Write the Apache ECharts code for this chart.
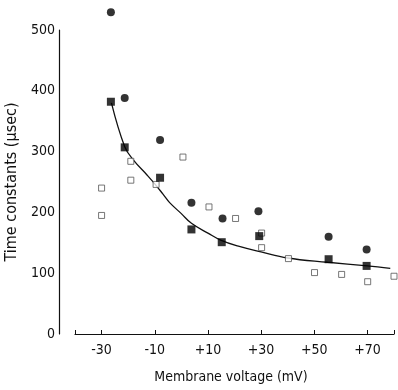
<!DOCTYPE html>
<html>
<head>
<meta charset="utf-8">
<script src="https://cdn.jsdelivr.net/npm/echarts@6/dist/echarts.min.js"></script>
<style>
  html, body { margin: 0; padding: 0; background: #fff; }
  #chart { width: 398px; height: 390px; }
</style>
</head>
<body>
<div id="chart"></div>
<script>
// values: membrane voltage (mV) and time constant (usec)
const filledCircleMv = [-26.5, -21.3, -8, 3.8, 15.5, 29, 55.4, 69.7]
const filledCircleUs = [529, 388, 319, 216, 190, 202, 160, 139]

const filledSquareMv = [-26.5, -21.3, -8, 3.8, 15.2, 29.3, 55.4, 69.7]
const filledSquareUs = [382, 307, 257, 172, 151, 161, 123, 112]

const openSquareMv = [-30, -30, -19, -19, -9.5, 0.6, 10.4, 20.4, 30.2, 30.2, 40.3, 50.1, 60.3, 70.1, 80]
const openSquareUs = [240, 195, 284, 253, 246, 291, 209, 190, 166, 142, 124, 101, 98, 86, 95]

// fitted curve, traced by eye
const curveMv = [-26.3, -21.3, -18, -13, -10, -6.9, -4.4, 0, 3.8, 10, 15, 21.8, 30, 40, 55, 70, 78.6]
const curveUs = [380, 308, 286, 262, 247, 230, 216, 198, 182, 166, 154, 144, 135, 125, 118, 112, 108]

const xLabelValues = [-30, -10, 10, 30, 50, 70]
const xTickValues = [-40, -30, -10, 10, 30, 50, 70, 80]

const pairs = (xs, ys) => xs.map((x, i) => [x, ys[i]])

const font = '"DejaVu Sans Condensed", "Liberation Sans", sans-serif'
const chart = echarts.init(document.getElementById('chart'))

const option = {
  animation: false,
  backgroundColor: '#fff',
  grid: { left: 75, right: 4, top: 30, bottom: 56, containLabel: false, outerBoundsMode: 'none' },
  xAxis: {
    type: 'value',
    min: -40,
    max: 80,
    name: 'Membrane voltage (mV)',
    nameLocation: 'middle',
    nameGap: 36,
    nameTextStyle: { fontFamily: font, fontSize: 14, color: '#111', padding: [0, 7, 0, 0] },
    splitLine: { show: false },
    axisLine: { onZero: false, lineStyle: { color: '#111', width: 1.2 } },
    axisTick: {
      customValues: xTickValues,
      inside: true,
      length: 4,
      lineStyle: { color: '#111' },
    },
    axisLabel: {
      customValues: xLabelValues,
      fontFamily: font,
      fontSize: 14,
      color: '#111',
      margin: 9,
      formatter: v => (v > 0 ? '+' + v : String(v)),
    },
  },
  yAxis: {
    type: 'value',
    min: 0,
    max: 500,
    interval: 100,
    offset: 16,
    name: 'Time constants (\u00b5sec)',
    nameLocation: 'middle',
    nameGap: 34,
    nameTextStyle: { fontFamily: font, fontSize: 16, color: '#111' },
    splitLine: { show: false },
    axisLine: { show: true, onZero: false, lineStyle: { color: '#111', width: 1.2 } },
    axisTick: { show: false },
    axisLabel: { fontFamily: font, fontSize: 14, color: '#111', margin: 4 },
  },
  series: [
    {
      name: 'fit',
      type: 'line',
      data: pairs(curveMv, curveUs),
      smooth: 0.4,
      symbol: 'none',
      lineStyle: { color: '#111', width: 1.3 },
      z: 1,
    },
    {
      name: 'open squares',
      type: 'scatter',
      data: pairs(openSquareMv, openSquareUs),
      symbol: 'rect',
      symbolSize: 6,
      clip: false,
      itemStyle: { color: '#fff', borderColor: '#555', borderWidth: 1 },
      z: 2,
    },
    {
      name: 'filled squares',
      type: 'scatter',
      data: pairs(filledSquareMv, filledSquareUs),
      symbol: 'rect',
      symbolSize: 8,
      clip: false,
      itemStyle: { color: '#000' },
      z: 3,
    },
    {
      name: 'filled circles',
      type: 'scatter',
      data: pairs(filledCircleMv, filledCircleUs),
      symbol: 'circle',
      symbolSize: 8,
      clip: false,
      itemStyle: { color: '#000' },
      z: 3,
    },
  ],
}

chart.setOption(option)
</script>
</body>
</html>
